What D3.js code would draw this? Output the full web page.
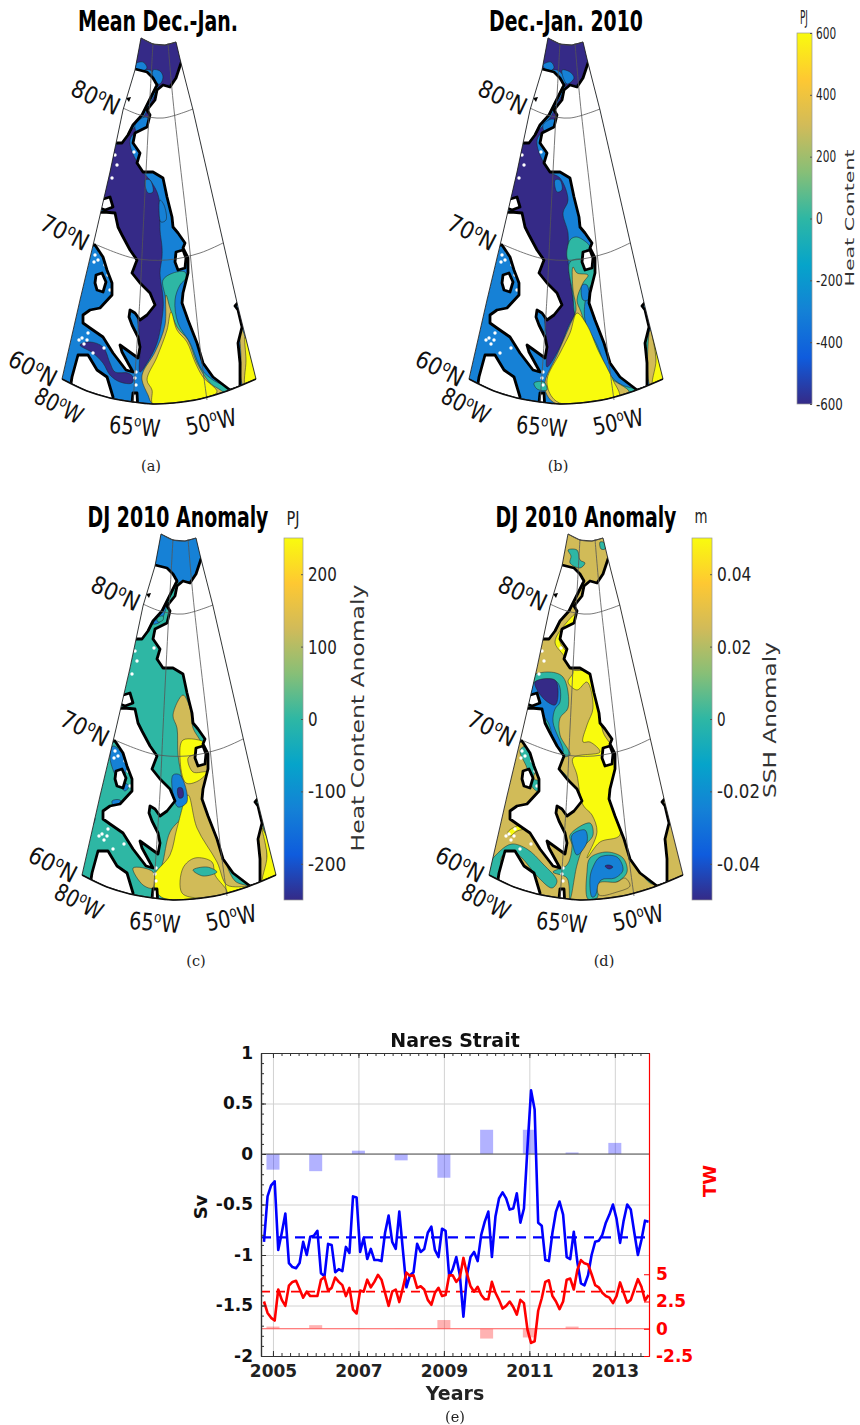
<!DOCTYPE html>
<html lang="en">
<head>
<meta charset="UTF-8">
<title>Nares Strait heat content</title>
<script src="https://d3js.org/d3.v7.min.js"></script>
<style>
    body { margin: 0; background: #fff; }
    svg { display: block; }
    text { font-family: 'DejaVu Sans', sans-serif; }
    .title { font-family: 'DejaVu Sans Condensed', 'DejaVu Sans', sans-serif; font-weight: bold; font-size: 28px; fill: #000; text-anchor: middle; }
    .geo { font-family: 'DejaVu Sans Condensed', 'DejaVu Sans', sans-serif; font-size: 24px; fill: #111; text-anchor: middle; }
    .caption { font-family: 'DejaVu Serif', serif; font-size: 14.5px; fill: #222; text-anchor: middle; }
    .cbar-label { fill: #333; text-anchor: middle; }
    .cbar-tick text { font-family: 'DejaVu Sans Condensed', sans-serif; fill: #222; }
    .unit { font-family: 'DejaVu Sans Condensed', sans-serif; font-size: 19px; fill: #222; text-anchor: middle; }
    .bold { font-weight: bold; font-size: 17px; }
</style>
</head>
<body>
<div id="chart"></div>
<script>
// ---- time series, panel (e)
const yearTicks = [2005, 2007, 2009, 2011, 2013];
const barYears = [2005, 2006, 2007, 2008, 2009, 2010, 2011, 2012, 2013];
const barSv = [-0.155, -0.17, 0.033, -0.063, -0.235, 0.24, 0.24, 0.015, 0.11];
const barTw = [0.2, 0.33, 0.02, 0.02, 0.8, -0.9, -0.8, 0.2, 0.02];
const meanSv = -0.825;
const meanTw = 3.4;
const seriesStart = 2004.79;
const svTicks = [1, 0.5, 0, -0.5, -1, -1.5, -2];
const twTicks = [5, 2.5, 0, -2.5];

const monthlySv = [
    -0.87, -0.42, -0.31, -0.27, -0.95, -0.78, -0.59, -1.08, -1.12, -1.13, -1.08, -0.87,
    -1.0, -0.82, -0.81, -0.76, -1.18, -1.21, -0.89, -0.9, -1.17, -1.14, -1.16, -0.92,
    -0.98, -0.42, -0.43, -0.97, -0.83, -1.04, -0.94, -1.05, -1.05, -1.06, -0.78, -0.61,
    -0.87, -0.94, -0.57, -0.95, -1.32, -1.2, -1.17, -0.89, -0.97, -0.94, -0.78, -0.72,
    -0.95, -1.02, -0.74, -0.76, -1.21, -1.14, -1.02, -1.2, -1.61, -1.2, -1.02, -0.97,
    -1.06, -0.8, -0.67, -0.57, -1.02, -0.62, -0.44, -0.38, -0.44, -0.55, -0.54, -0.39,
    -0.68, -0.54, 0.07, 0.63, 0.44, -0.68, -0.71, -1.05, -1.06, -0.78, -0.57, -0.47,
    -0.6, -1.02, -1.04, -0.77, -1.07, -1.28, -1.3, -1.2, -1.0, -0.87, -0.86, -0.8,
    -0.68, -0.6, -0.5, -0.64, -0.88, -0.66, -0.5, -0.55, -0.78, -1.0, -0.85, -0.66, -0.67
];
const monthlyTw = [
    2.5, 1.45, 1.0, 0.75, 3.6, 2.65, 2.1, 3.95, 4.3, 4.4, 3.65, 2.85,
    3.4, 3.0, 3.0, 3.0, 4.5, 4.75, 3.5, 3.75, 4.7, 4.3, 4.0, 3.0,
    3.75, 1.75, 1.4, 3.5, 3.4, 4.5, 3.8, 4.3, 4.95, 4.5, 3.3, 2.1,
    3.4, 3.6, 2.45, 3.75, 5.15, 4.85, 4.9, 3.75, 3.9, 3.6, 2.65, 2.2,
    3.3, 3.75, 3.0, 3.1, 4.9, 4.9, 4.3, 4.7, 6.5, 5.05, 3.9, 3.4,
    3.85, 3.1, 2.7, 2.7, 4.3, 3.3, 2.65, 1.85, 2.1, 2.5, 2.0, 1.3,
    2.65, 2.35, -0.1, -1.3, -1.15, 1.65, 2.8, 4.3, 4.45, 3.0, 2.5, 1.8,
    2.5, 4.5, 4.6, 3.6, 5.4, 6.3, 6.0, 5.9, 5.0, 4.0, 3.8, 3.3,
    3.0, 2.85, 2.35, 3.0, 4.25, 3.3, 2.4, 2.65, 3.6, 4.55, 3.85, 2.6, 3.1
];

// ---- map geometry, in map units shared by the four panels
const wedge = [[141,38],[135,70],[123,110],[110,172],[95,237],[80,300],[62,379],[87,391],[110,398],[133,402],[153,404],[173,403],[200,399],[227,391],[256,379],[238,307],[222,237],[193,110],[181,63],[176,42],[165,45],[153,44]];
const bottomArc = [[62,379],[87,391],[110,398],[133,402],[153,404],[173,403],[200,399],[227,391],[256,379]];
const topArc = [[141,38],[153,44],[165,45],[176,42]];
const parallels = [
    [[123,108],[140,115],[163,118],[193,109]],
    [[97,245],[133,258],[167,260],[200,253],[223,243]]
];
const meridians = [
    [[153,43],[148,133],[143,233],[140,297],[133,403]],
    [[168,43],[173,100],[188,233],[200,347],[207,400]]
];
const landEllesmere = [[128,66],[135,69],[147,72],[153,78],[157,85],[152,95],[147,105],[142,115],[133,125],[128,135],[122,143],[112,143]];
const landBaffin = [[90,213],[104,212],[115,213],[118,227],[122,235],[130,250],[137,260],[132,273],[140,283],[150,293],[155,305],[147,315],[140,320],[135,313],[130,310],[129,317],[132,325],[138,337],[140,347],[138,358],[120,345],[122,352],[128,363],[133,372],[126,370],[113,353],[103,337],[90,328],[83,323],[83,315],[90,310],[100,308],[112,295],[112,283],[107,270],[103,257],[95,245],[85,245]];
const landQuebec = [[72,377],[78,355],[88,355],[97,370],[107,377],[110,387],[113,397],[113,412],[68,412],[70,390]];
const landGreenland = [[181,63],[176,78],[170,87],[163,85],[157,90],[155,100],[147,110],[150,115],[147,127],[135,133],[133,143],[140,153],[137,163],[143,172],[153,172],[163,178],[167,197],[172,217],[173,227],[178,233],[185,243],[183,248],[188,258],[188,273],[183,293],[182,303],[188,320],[197,343],[203,363],[213,377],[230,390],[240,387],[240,363],[238,343],[242,327],[238,310],[235,306],[242,298],[200,55],[185,55]];
const islandCape = [[133,393],[137,393],[138,412],[131,412]];
const islandDisko = [[176,252],[183,250],[186,258],[185,268],[178,270],[175,262]];
const islandSmall = [[96,275],[102,273],[106,282],[103,292],[97,290],[95,283]];
const islandBylot = [[100,200],[110,197],[113,207],[105,210],[100,208]];
const islandDark = [[126,98],[131,97],[129,102]];
const specks = [[95,255],[98,260],[94,262],[105,265],[82,338],[87,340],[88,333],[84,344],[135,378],[93,353],[136,372],[115,155],[134,152],[100,252],[79,340],[104,348],[136,385],[117,165],[112,178],[108,275],[110,290]];

// contour areas per panel: level and outline in map units
const regionsMean = [
    { v: -600, pts: [[138,30],[180,30],[186,63],[176,82],[160,88],[152,100],[143,118],[132,130],[120,140],[105,170],[100,200],[115,225],[130,262],[135,300],[140,345],[140,372],[147,363],[157,343],[163,310],[163,297],[160,273],[162,257],[162,247],[160,230],[160,205],[157,192],[150,180],[143,172],[130,140],[150,118],[158,90],[158,78],[150,70],[135,70]] },
    { v: -300, pts: [[135,64],[143,62],[147,68],[142,71],[135,70]] },
    { v: -300, pts: [[153,70],[160,71],[163,77],[160,84],[155,82]] },
    { v: -300, pts: [[135,125],[145,117],[150,120],[147,128],[137,132]] },
    { v: -300, pts: [[145,180],[150,180],[153,192],[148,193]] },
    { v: -300, pts: [[160,200],[164,205],[166,220],[161,222],[159,210]] },
    { v: -600, pts: [[80,345],[90,342],[103,347],[110,363],[115,372],[128,373],[133,377],[132,383],[120,382],[110,375],[103,363],[93,353]] },
    { v: 0, pts: [[163,280],[173,273],[185,272],[186,278],[180,285],[175,300],[178,323],[190,343],[202,370],[213,380],[230,390],[217,396],[200,380],[188,350],[175,330],[167,306],[165,295]] },
    { v: 300, pts: [[166,295],[170,308],[177,327],[188,340],[197,363],[210,383],[223,393],[200,400],[153,404],[148,395],[142,380],[143,372],[155,352],[165,325]] },
    { v: 600, pts: [[171,312],[177,330],[187,342],[195,362],[203,377],[217,392],[200,399],[153,404],[152,390],[147,380],[157,357],[167,330]] },
    { v: 300, pts: [[240,325],[245,337],[248,360],[250,385],[243,385],[241,355]] },
    { v: 600, pts: [[245,337],[260,385],[246,387],[246,360]] }
];
const regionsYear = [
    { v: -600, pts: [[138,30],[180,30],[186,63],[176,82],[160,88],[152,100],[143,118],[132,130],[120,140],[105,170],[100,200],[115,225],[130,262],[135,300],[140,345],[140,367],[153,347],[161,327],[168,312],[166,300],[163,277],[161,260],[161,233],[156,213],[161,200],[153,178],[143,172],[130,140],[150,118],[158,90],[158,78],[150,70],[135,70]] },
    { v: -300, pts: [[136,65],[144,62],[147,68],[141,71]] },
    { v: -300, pts: [[155,70],[163,72],[167,78],[160,84]] },
    { v: -300, pts: [[136,125],[145,119],[150,122],[146,129],[138,132]] },
    { v: -300, pts: [[148,180],[153,180],[155,190],[150,192]] },
    { v: 0, pts: [[163,240],[170,237],[183,247],[177,252],[176,260],[161,260]] },
    { v: 0, pts: [[163,262],[178,260],[190,273],[180,293],[178,320],[190,345],[203,375],[215,385],[230,390],[215,396],[200,375],[180,340],[168,315],[166,295]] },
    { v: -300, pts: [[175,285],[180,285],[181,300],[176,300]] },
    { v: 300, pts: [[166,267],[170,273],[181,275],[176,283],[170,300],[174,312],[186,345],[200,375],[222,392],[208,400],[150,404],[140,395],[138,382],[150,355],[163,325],[169,310],[166,290]] },
    { v: 600, pts: [[170,313],[180,325],[191,350],[206,380],[212,397],[156,404],[145,397],[140,380],[153,353],[163,333]] },
    { v: 0, pts: [[127,383],[137,382],[140,390],[130,389]] },
    { v: 0, pts: [[240,330],[243,345],[243,380],[240,380]] },
    { v: 300, pts: [[243,330],[247,340],[248,385],[243,385]] },
    { v: 600, pts: [[245,333],[260,385],[246,387],[249,360]] }
];
const regionsHeatAnom = [
    { v: -125, pts: [[138,30],[180,30],[186,64],[173,84],[157,87],[150,94],[147,109],[140,126],[133,128],[138,118],[146,100],[150,88],[143,72],[132,67]] },
    { v: 0, pts: [[137,122],[143,120],[143,124],[138,126]] },
    { v: 125, pts: [[163,199],[170,212],[173,232],[180,244],[190,262],[190,285],[185,305],[200,350],[215,385],[228,391],[207,404],[150,404],[135,385],[142,369],[150,336],[165,316],[163,290],[158,259],[157,232],[153,219]] },
    { v: 250, pts: [[163,244],[185,247],[175,258],[168,262],[173,276],[187,276],[178,285],[166,287],[160,262]] },
    { v: 250, pts: [[168,299],[177,332],[197,366],[207,389],[227,391],[207,398],[157,404],[140,400],[133,382],[150,359],[157,332]] },
    { v: 125, pts: [[162,397],[163,372],[175,362],[192,366],[195,379],[207,397],[180,402]] },
    { v: 0, pts: [[173,374],[187,371],[197,376],[183,380]] },
    { v: 125, pts: [[113,372],[133,376],[133,392],[123,389]] },
    { v: -125, pts: [[153,279],[160,279],[167,306],[158,311],[153,298]] },
    { v: -250, pts: [[158,292],[162,292],[163,301],[159,302]] },
    { v: -125, pts: [[93,250],[103,258],[107,270],[104,285],[109,290],[105,295],[98,285],[90,262]] },
    { v: -125, pts: [[92,305],[100,304],[102,310],[96,314]] },
    { v: -125, pts: [[70,322],[75,322],[73,328]] },
    { v: 125, pts: [[240,325],[244,335],[246,385],[241,385]] },
    { v: 250, pts: [[242,332],[260,385],[243,388],[247,360]] }
];
const regionsSshAnom = [
    { v: 250, pts: [[140,126],[150,117],[148,129],[135,136],[133,146],[141,159],[140,169],[146,174],[160,176],[170,202],[176,236],[188,256],[188,276],[185,299],[193,339],[173,346],[160,362],[170,336],[165,319],[156,309],[150,279],[146,262],[173,256],[163,246],[156,246],[160,229],[166,212],[160,186],[150,194],[141,186],[146,176],[137,160],[128,146]] },
    { v: 0, pts: [[100,183],[120,176],[136,181],[141,212],[133,222],[133,239],[143,259],[136,262],[133,272],[143,286],[135,290],[125,270],[115,235],[100,205]] },
    { v: -125, pts: [[100,190],[130,186],[133,206],[128,213],[126,226],[136,256],[130,256],[121,226],[108,212]] },
    { v: -250, pts: [[108,186],[128,184],[131,199],[128,209],[116,202]] },
    { v: 0, pts: [[160,376],[163,362],[180,356],[196,362],[200,376],[190,386],[173,389],[170,402],[161,403]] },
    { v: -125, pts: [[163,382],[166,371],[173,361],[190,361],[196,374],[188,382],[174,384],[168,400],[165,401]] },
    { v: -250, pts: [[178,370],[182,369],[186,371],[182,373]] },
    { v: 125, pts: [[172,387],[190,386],[198,382],[203,390],[190,396],[172,399]] },
    { v: 0, pts: [[143,339],[163,327],[166,339],[156,352],[150,369],[143,403],[140,382],[126,376],[140,369],[145,350]] },
    { v: -125, pts: [[145,339],[158,334],[160,346],[150,359],[146,350]] },
    { v: 0, pts: [[141,54],[150,54],[153,64],[158,67],[153,72],[143,67],[144,60]] },
    { v: 0, pts: [[173,46],[178,47],[178,53],[174,53]] },
    { v: 0, pts: [[57,378],[73,355],[85,348],[100,353],[116,368],[130,385],[125,392],[110,380],[95,362],[85,355],[75,360],[72,388]] },
    { v: 250, pts: [[81,336],[90,330],[103,327],[100,332],[90,335],[83,340]] },
    { v: 0, pts: [[93,254],[100,250],[110,265],[107,283],[113,285],[113,296],[106,292],[100,272]] },
    { v: 0, pts: [[133,275],[138,278],[143,288],[137,292]] },
    { v: 0, pts: [[234,385],[225,388],[218,382],[228,388]] }
];

const barStops = ["#352a87", "#0f5cdd", "#1481d6", "#06a4ca", "#2eb7a4", "#87bf77", "#d1bb59", "#fec832", "#f9fb0e"];
const geoLabels = [
    { t: ["80", "N"], x: 92, y: 105, r: 25 },
    { t: ["70", "N"], x: 61, y: 240, r: 27 },
    { t: ["60", "N"], x: 29, y: 376, r: 27 },
    { t: ["80", "W"], x: 55, y: 413, r: 27 },
    { t: ["65", "W"], x: 134, y: 435, r: 5 },
    { t: ["50", "W"], x: 213, y: 430, r: -12 }
];

const panels = [
    { title: "Mean Dec.-Jan.", dx: 0, dy: 0, tx: 158, ty: 31, tw: 160, caption: "(a)", cx: 151, cy: 471, regions: regionsMean, base: -300, max: 600 },
    { title: "Dec.-Jan. 2010", dx: 407, dy: 0, tx: 566, ty: 31, tw: 154, caption: "(b)", cx: 558, cy: 471, regions: regionsYear, base: -300, max: 600 },
    { title: "DJ 2010 Anomaly", dx: 20, dy: 496, tx: 178, ty: 527, tw: 181, caption: "(c)", cx: 196, cy: 966, regions: regionsHeatAnom, base: 0, max: 250 },
    { title: "DJ 2010 Anomaly", dx: 427, dy: 496, tx: 586, ty: 527, tw: 181, caption: "(d)", cx: 604, cy: 966, regions: regionsSshAnom, base: 125, max: 250 }
];

const bars = [
    { x0: 797, x1: 812, top: 33, bottom: 404, dom: [-600, 600], ticks: [600, 400, 200, 0, -200, -400, -600], unit: "PJ", ux: 804, uy: 24, uw: 8, label: "Heat Content", lx: 854, ly: 218, lw: 137, ls: 11.5, size: 16, charW: 6.7, pad: 4 },
    { x0: 284, x1: 303, top: 538, bottom: 900, dom: [-250, 250], ticks: [200, 100, 0, -100, -200], unit: "PJ", ux: 293, uy: 525, uw: 13, label: "Heat Content Anomaly", lx: 364, ly: 718, lw: 267, ls: 17, size: 20, charW: 9.6, pad: 5 },
    { x0: 692, x1: 712, top: 538, bottom: 900, dom: [-0.05, 0.05], ticks: [0.04, 0.02, 0, -0.02, -0.04], unit: "m", ux: 701, uy: 523, uw: 13, label: "SSH Anomaly", lx: 776, ly: 720, lw: 156, ls: 17, size: 20, charW: 8.6, pad: 5 }
];

// stretch a text horizontally to the width
function fit(sel, place, w) {
    const s = w / sel.node().getComputedTextLength();
    sel.attr("transform", `${place} scale(${s},1)`);
}

const svg = d3.select("#chart").append("svg").attr("width", 860).attr("height", 1425);
const defs = svg.append("defs");
defs.append("filter").attr("id", "soft").append("feGaussianBlur").attr("stdDeviation", 0.45);

const lands = [landEllesmere, landBaffin, landQuebec, landGreenland, islandCape, islandDisko, islandSmall, islandBylot];

panels.forEach((p, idx) => {
    const px = d3.scaleLinear().domain([0, 860]).range([p.dx, 860 + p.dx]);
    const py = d3.scaleLinear().domain([0, 1425]).range([p.dy, 1425 + p.dy]);
    const color = d3.scaleLinear()
        .domain(d3.range(barStops.length).map(i => -p.max + i * 2 * p.max / (barStops.length - 1)))
        .range(barStops);
    const straight = d3.line().x(d => px(d[0])).y(d => py(d[1]));
    const smooth = d3.line().x(d => px(d[0])).y(d => py(d[1])).curve(d3.curveCatmullRomClosed.alpha(0.5));
    const curved = d3.line().x(d => px(d[0])).y(d => py(d[1])).curve(d3.curveCatmullRom.alpha(0.5));

    defs.append("clipPath").attr("id", "wedge" + idx)
        .append("path").attr("d", straight(wedge) + "Z");

    const g = svg.append("g").attr("filter", "url(#soft)");
    const clipped = g.append("g").attr("clip-path", `url(#wedge${idx})`);

    clipped.append("path").attr("d", straight(wedge) + "Z").attr("fill", color(p.base));
    clipped.selectAll(".region").data(p.regions).enter().append("path")
        .attr("class", "region")
        .attr("d", d => smooth(d.pts))
        .attr("fill", d => color(d.v))
        .attr("stroke", "#222")
        .attr("stroke-width", 0.5);
    clipped.selectAll(".speck").data(specks).enter().append("circle")
        .attr("cx", d => px(d[0])).attr("cy", d => py(d[1])).attr("r", 1.7).attr("fill", "#fff");
    clipped.selectAll(".land").data(lands).enter().append("path")
        .attr("d", d => straight(d) + "Z")
        .attr("fill", "#fff")
        .attr("stroke", "#000")
        .attr("stroke-width", 2.8)
        .attr("stroke-linejoin", "round");
    clipped.append("path").attr("d", straight(islandDark) + "Z").attr("fill", "#000");

    g.selectAll(".grat").data(parallels.concat(meridians)).enter().append("path")
        .attr("d", curved).attr("fill", "none").attr("stroke", "#555").attr("stroke-width", 0.8);
    // wedge sides
    g.append("path").attr("d", straight(wedge) + "Z").attr("fill", "none").attr("stroke", "#222").attr("stroke-width", 0.9);
    g.append("path").attr("d", curved(bottomArc)).attr("fill", "none").attr("stroke", "#111").attr("stroke-width", 1.5);
    g.append("path").attr("d", curved(topArc)).attr("fill", "none").attr("stroke", "#444").attr("stroke-width", 0.8);

    const title = svg.append("text").attr("class", "title").text(p.title);
    fit(title, `translate(${p.tx},${p.ty})`, p.tw);
    svg.append("text").attr("class", "caption").attr("x", p.cx).attr("y", p.cy).text(p.caption);

    geoLabels.forEach(l => {
        const txt = svg.append("text").attr("class", "geo");
        txt.append("tspan").text(l.t[0]);
        txt.append("tspan").attr("dy", -9).attr("font-size", 15).text("o");
        txt.append("tspan").attr("dy", 9).text(l.t[1]);
        fit(txt, `translate(${px(l.x)},${py(l.y)}) rotate(${l.r})`, 51);
    });
});

// colorbars
bars.forEach((b, idx) => {
    const y = d3.scaleLinear().domain(b.dom).range([b.bottom, b.top]);
    const grad = defs.append("linearGradient").attr("id", "ramp" + idx)
        .attr("x1", 0).attr("x2", 0).attr("y1", 1).attr("y2", 0);
    barStops.forEach((c, i) => grad.append("stop").attr("offset", i / (barStops.length - 1)).attr("stop-color", c));

    svg.append("rect").attr("x", b.x0).attr("y", b.top)
        .attr("width", b.x1 - b.x0).attr("height", b.bottom - b.top)
        .attr("fill", `url(#ramp${idx})`).attr("stroke", "#999").attr("stroke-width", 0.7);

    const axis = svg.append("g").attr("class", "cbar-tick")
        .attr("transform", `translate(${b.x1},0)`)
        .call(d3.axisRight(y).tickValues(b.ticks).tickSize(-2).tickPadding(b.pad).tickFormat(d => String(d)));
    axis.select(".domain").remove();
    axis.selectAll("line").attr("stroke", "#555");
    axis.selectAll("text").attr("font-size", b.size).each(function() {
        const t = d3.select(this);
        const tx = +t.attr("x");
        t.attr("x", 0);
        fit(t, `translate(${tx},0)`, this.textContent.length * b.charW);
    });

    const unit = svg.append("text").attr("class", "unit").text(b.unit);
    fit(unit, `translate(${b.ux},${b.uy})`, b.uw);
    const label = svg.append("text").attr("class", "cbar-label").attr("font-size", b.ls).text(b.label);
    fit(label, `translate(${b.lx},${b.ly}) rotate(-90)`, b.lw);
});

// ---- panel (e)
const plot = { left: 261, right: 649, top: 1053, bottom: 1356 };
const x = d3.scaleLinear().domain([2004.72, 2013.8]).range([plot.left, plot.right]);
const ySv = d3.scaleLinear().domain([-2, 1]).range([plot.bottom, plot.top]);
const yTw = d3.scaleLinear().domain([-2.5, 25.3]).range([plot.bottom, plot.top]);
const monthYears = monthlySv.map((_, i) => seriesStart + i / 12);

const e = svg.append("g").attr("filter", "url(#soft)");
const plotW = plot.right - plot.left, plotH = plot.bottom - plot.top;

const gridY = e.append("g").attr("transform", `translate(${plot.left},0)`)
    .call(d3.axisLeft(ySv).tickValues(svTicks).tickSize(-plotW).tickFormat(""));
const gridX = e.append("g").attr("transform", `translate(0,${plot.bottom})`)
    .call(d3.axisBottom(x).tickValues(yearTicks).tickSize(-plotH).tickFormat(""));
[gridY, gridX].forEach(a => {
    a.select(".domain").remove();
    a.selectAll("line").attr("stroke", "#d2d2d2").attr("stroke-width", 1);
});

e.selectAll(".bar-sv").data(barYears).enter().append("rect")
    .attr("x", d => x(d) - 6.5).attr("width", 13)
    .attr("y", (d, i) => Math.min(ySv(barSv[i]), ySv(0)))
    .attr("height", (d, i) => Math.abs(ySv(barSv[i]) - ySv(0)))
    .attr("fill", "#0000ff").attr("opacity", 0.3);
e.selectAll(".bar-tw").data(barYears).enter().append("rect")
    .attr("x", d => x(d) - 6.5).attr("width", 13)
    .attr("y", (d, i) => Math.min(yTw(barTw[i]), yTw(0)))
    .attr("height", (d, i) => Math.abs(yTw(barTw[i]) - yTw(0)))
    .attr("fill", "#ff0000").attr("opacity", 0.3);

e.append("line").attr("x1", plot.left).attr("x2", plot.right).attr("y1", ySv(0)).attr("y2", ySv(0))
    .attr("stroke", "#555").attr("stroke-width", 1);
e.append("line").attr("x1", plot.left).attr("x2", plot.right).attr("y1", yTw(0)).attr("y2", yTw(0))
    .attr("stroke", "#f55").attr("stroke-width", 1);

e.append("line").attr("x1", plot.left).attr("x2", plot.right).attr("y1", ySv(meanSv)).attr("y2", ySv(meanSv))
    .attr("stroke", "#0000ff").attr("stroke-width", 2.4).attr("stroke-dasharray", "10 7");
e.append("line").attr("x1", plot.left).attr("x2", plot.right).attr("y1", yTw(meanTw)).attr("y2", yTw(meanTw))
    .attr("stroke", "#ff0000").attr("stroke-width", 1.8).attr("stroke-dasharray", "9 6");

const lineSv = d3.line().x((d, i) => x(monthYears[i])).y(d => ySv(d));
const lineTw = d3.line().x((d, i) => x(monthYears[i])).y(d => yTw(d));
e.append("path").datum(monthlySv).attr("d", lineSv).attr("fill", "none").attr("stroke", "#0000ff").attr("stroke-width", 2.6).attr("stroke-linejoin", "round");
e.append("path").datum(monthlyTw).attr("d", lineTw).attr("fill", "none").attr("stroke", "#ff0000").attr("stroke-width", 2.6).attr("stroke-linejoin", "round");

// minor ticks and box
const minorSv = d3.range(-2, 1.01, 0.1);
const minorYears = d3.range(2005, 2013.81, 0.2);
const axisInk = "#333";
function styleAxis(a, ink) {
    a.selectAll("line").attr("stroke", ink);
    a.select(".domain").attr("stroke", ink).attr("stroke-width", 1.2);
    a.selectAll("text").remove();
}
styleAxis(e.append("g").attr("transform", `translate(${plot.left},0)`).call(d3.axisRight(ySv).tickValues(minorSv).tickSizeInner(3).tickSizeOuter(0).tickFormat("")), axisInk);
styleAxis(e.append("g").attr("transform", `translate(${plot.left},0)`).call(d3.axisRight(ySv).tickValues(svTicks).tickSizeInner(5).tickSizeOuter(0).tickFormat("")), axisInk);
styleAxis(e.append("g").attr("transform", `translate(0,${plot.bottom})`).call(d3.axisTop(x).tickValues(minorYears).tickSizeInner(3).tickSizeOuter(0).tickFormat("")), axisInk);
styleAxis(e.append("g").attr("transform", `translate(0,${plot.bottom})`).call(d3.axisTop(x).tickValues(yearTicks).tickSizeInner(5).tickSizeOuter(0).tickFormat("")), axisInk);
styleAxis(e.append("g").attr("transform", `translate(0,${plot.top})`).call(d3.axisBottom(x).tickValues(minorYears).tickSizeInner(3).tickSizeOuter(0).tickFormat("")), axisInk);
styleAxis(e.append("g").attr("transform", `translate(0,${plot.top})`).call(d3.axisBottom(x).tickValues(yearTicks).tickSizeInner(5).tickSizeOuter(0).tickFormat("")), axisInk);
styleAxis(e.append("g").attr("transform", `translate(${plot.right},0)`).call(d3.axisLeft(yTw).tickValues(twTicks).tickSizeInner(5).tickSizeOuter(0).tickFormat("")), "#f00");

// labels of (e)
const labelAxis = (a, ink) => {
    a.select(".domain").remove();
    a.selectAll("line").remove();
    a.selectAll("text").attr("class", "bold").attr("fill", ink);
};
labelAxis(svg.append("g").attr("transform", `translate(${plot.left},0)`)
    .call(d3.axisLeft(ySv).tickValues(svTicks).tickSize(0).tickPadding(8).tickFormat(d => String(d))), "#111");
labelAxis(svg.append("g").attr("transform", `translate(0,${plot.bottom})`)
    .call(d3.axisBottom(x).tickValues(yearTicks).tickSize(0).tickPadding(9).tickFormat(d => String(d))), "#222");
labelAxis(svg.append("g").attr("transform", `translate(${plot.right},0)`)
    .call(d3.axisRight(yTw).tickValues(twTicks).tickSize(0).tickPadding(7).tickFormat(d => String(d))), "#f00");

svg.append("text").attr("x", 455).attr("y", 1047).attr("text-anchor", "middle")
    .attr("font-weight", "bold").attr("font-size", 19).attr("fill", "#111").text("Nares Strait");
svg.append("text").attr("x", 455).attr("y", 1400).attr("text-anchor", "middle")
    .attr("font-weight", "bold").attr("font-size", 19).attr("fill", "#222").text("Years");
svg.append("text").attr("transform", "translate(207,1207) rotate(-90)").attr("text-anchor", "middle")
    .attr("font-weight", "bold").attr("font-size", 18).attr("fill", "#111").text("Sv");
svg.append("text").attr("transform", "translate(716,1181) rotate(-90)").attr("text-anchor", "middle")
    .attr("font-weight", "bold").attr("font-size", 18).attr("fill", "#f00").text("TW");
svg.append("text").attr("class", "caption").attr("x", 455).attr("y", 1422).text("(e)");
</script>
</body>
</html>
